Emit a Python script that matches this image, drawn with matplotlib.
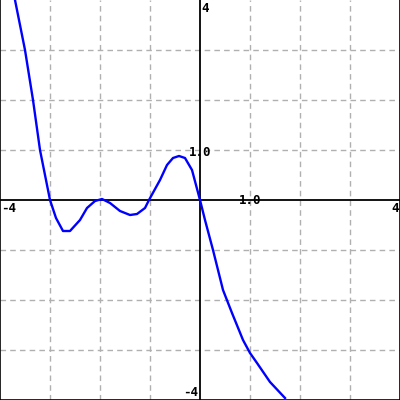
import matplotlib
matplotlib.use("Agg")
import matplotlib.pyplot as plt

curve_x = [-3.70, -3.50, -3.34, -3.20, -3.00, -2.88, -2.74, -2.60, -2.40, -2.26, -2.10,
           -1.96, -1.80, -1.60, -1.40, -1.26, -1.10, -1.02, -0.80, -0.66, -0.54, -0.42,
           -0.30, -0.16, -0.08, 0.00, 0.10, 0.26, 0.46, 0.64, 0.86, 1.00, 1.14, 1.40, 1.70]
curve_y = [4.00, 3.00, 2.00, 1.00, 0.00, -0.36, -0.62, -0.62, -0.40, -0.16, -0.02,
           0.02, -0.06, -0.22, -0.30, -0.28, -0.16, 0.00, 0.40, 0.70, 0.84, 0.88,
           0.84, 0.60, 0.30, 0.00, -0.40, -1.00, -1.80, -2.26, -2.80, -3.06, -3.26, -3.64, -3.96]

x_range = [-4, 4]
y_range = [-4, 4]
grid_vals = [-3, -2, -1, 1, 2, 3]

fig = plt.figure(figsize=(4, 4), dpi=100)
ax = fig.add_axes([0, 0, 1, 1])
ax.set_xlim(x_range)
ax.set_ylim(y_range)
ax.set_xticks([])
ax.set_yticks([])
for s in ax.spines.values():
    s.set_linewidth(1.2)
    s.set_color("black")
ax.spines["top"].set_visible(False)

for g in grid_vals:
    ax.axvline(g, color="#b0b0b0", lw=1, ls=(0, (4, 3)), zorder=1)
    ax.axhline(g, color="#b0b0b0", lw=1, ls=(0, (4, 3)), zorder=1)
ax.axhline(0, color="black", lw=1.3, zorder=2)
ax.axvline(0, color="black", lw=1.3, zorder=2)

ax.plot(curve_x, curve_y, color="#0000ff", lw=1.7, zorder=3)

font = dict(family="DejaVu Sans Mono", fontweight="bold", fontsize=9, color="black", zorder=4)
ax.text(0.02, 3.96, "4", ha="left", va="top", **font)
ax.text(-3.97, -0.04, "-4", ha="left", va="top", **font)
ax.text(3.97, -0.04, "4", ha="right", va="top", **font)
ax.text(-0.03, -3.97, "-4", ha="right", va="bottom", **font)
ax.text(1.0, -0.02, "1.0", ha="center", va="center", **font)
ax.text(0.0, 0.96, "1.0", ha="center", va="center", **font)

fig.savefig("out.png", dpi=100)
